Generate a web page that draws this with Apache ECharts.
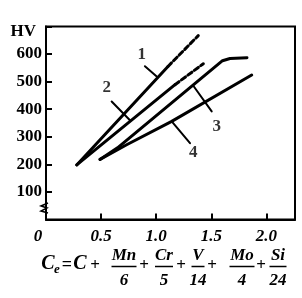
<!DOCTYPE html>
<html><head><meta charset="utf-8">
<script src="https://cdn.jsdelivr.net/npm/echarts@6/dist/echarts.min.js"></script>
<style>html,body{margin:0;padding:0;background:#fff}#c{width:302px;height:298px}</style>
</head><body><div id="c"></div>
<script>
// ---- data ----
const xTickLabels = ['0', '0.5', '1.0', '1.5', '2.0'];
const yTickLabels = ['100', '200', '300', '400', '500', '600'];
const curve1Solid = [[0.279, 198], [1.107, 555]];
const curve1Dash  = [[1.107, 555], [1.382, 667]];
const curve2Solid = [[0.279, 198], [1.171, 489]];
const curve2Dash  = [[1.171, 489], [1.428, 565]];
const curve3 = [[0.490, 218], [0.649, 260], [1.602, 576], [1.670, 584], [1.824, 587]];
const curve4 = [[0.490, 218], [0.732, 271], [1.141, 356], [1.867, 524]];
const curveNames = ['1', '2', '3', '4'];
const labelPoints = [[0.868, 598], [0.551, 478], [1.549, 337], [1.337, 241]];
const leader1 = [[0.898, 556], [1.005, 519]];
const leader2 = [[0.596, 428], [0.762, 360]];
const leader3 = [[1.337, 485], [1.504, 392]];
const leader4 = [[1.141, 356], [1.307, 277]];

const FONT = '"Liberation Serif", "DejaVu Serif", serif';
const chart = echarts.init(document.getElementById('c'), null, {renderer: 'canvas'});

function lineSeries(data, width, dash) {
  return {
    type: 'line', data: data, symbol: 'none', silent: true, animation: false,
    lineStyle: {color: '#000', width: width, type: dash || 'solid', cap: 'round'}
  };
}

// formula graphics
const g = [];
function txt(t, x, y, size, italic) {
  g.push({type: 'text', x: x, y: y, silent: true,
    style: {text: t, fill: '#000', align: 'center', verticalAlign: 'middle',
      font: (italic ? 'italic ' : '') + 'bold ' + size + 'px ' + FONT}});
}
function bar(x1, x2, y) {
  g.push({type: 'line', silent: true, shape: {x1: x1, y1: y, x2: x2, y2: y}, style: {stroke: '#000', lineWidth: 1.5}});
}
txt('C', 48, 264, 20, true);
txt('e', 57, 270, 13, true);
txt('=', 67, 265, 18, false);
txt('C', 80, 264, 20, true);
txt('+', 95, 266, 17, false);
const fracs = [['Mn', '6', 124, 25], ['Cr', '5', 164, 18], ['V', '14', 198, 13], ['Mo', '4', 242, 25], ['Si', '24', 278, 17]];
const plusX = [144, 181, 212, 261];
fracs.forEach(f => {
  txt(f[0], f[2], 256, 17, true);
  bar(f[2] - f[3] / 2, f[2] + f[3] / 2, 266.5);
  txt(f[1], f[2], 281, 17, true);
});
plusX.forEach(x => txt('+', x, 266, 17, false));
// axis break mark
g.push({type: 'polyline', silent: true, shape: {points: [[48, 203], [41, 206], [47, 208], [41, 211], [48, 213]]},
  style: {stroke: '#000', lineWidth: 1.5, fill: null}});

chart.setOption({
  animation: false,
  grid: {left: 46, right: 7, top: 26.5, bottom: 78.5, show: true, borderColor: '#000', borderWidth: 2, backgroundColor: 'transparent'},
  xAxis: {
    type: 'value', min: 0, max: 2.26, interval: 0.5,
    axisLine: {show: true, lineStyle: {color: '#000', width: 2}},
    axisTick: {show: true, inside: true, length: 6, lineStyle: {color: '#000', width: 2}},
    splitLine: {show: false},
    axisLabel: {
      margin: 9, color: '#000', fontFamily: FONT, fontWeight: 'bold', fontStyle: 'italic', fontSize: 17,
      formatter: v => {
        const i = Math.round(v / 0.5);
        if (Math.abs(v - i * 0.5) > 1e-6 || i >= xTickLabels.length) return '';
        return i === 0 ? '{z|' + xTickLabels[0] + '}' : xTickLabels[i];
      },
      rich: {z: {fontFamily: FONT, fontWeight: 'bold', fontStyle: 'italic', fontSize: 17, color: '#000', padding: [0, 16, 0, 0]}}
    }
  },
  yAxis: {
    type: 'value', min: 0, max: 700, interval: 100,
    name: 'HV', nameLocation: 'end', nameGap: -5,
    nameTextStyle: {color: '#000', fontFamily: FONT, fontWeight: 'bold', fontSize: 17, align: 'right', verticalAlign: 'middle', padding: [0, 10, 0, 0]},
    axisLine: {show: true, lineStyle: {color: '#000', width: 2}},
    axisTick: {show: true, inside: true, length: 6, lineStyle: {color: '#000', width: 2}},
    splitLine: {show: false},
    axisLabel: {
      margin: 4, color: '#000', fontFamily: FONT, fontWeight: 'bold', fontSize: 17,
      formatter: v => {
        const i = Math.round(v / 100) - 1;
        return (i >= 0 && i < yTickLabels.length) ? yTickLabels[i] : '';
      }
    }
  },
  series: [
    lineSeries(curve1Solid, 3), lineSeries(curve1Dash, 3, [5, 3]),
    lineSeries(curve2Solid, 3), lineSeries(curve2Dash, 3, [5, 3]),
    lineSeries(curve3, 3), lineSeries(curve4, 3),
    lineSeries(leader1, 2), lineSeries(leader2, 2), lineSeries(leader3, 2), lineSeries(leader4, 2),
    {
      type: 'scatter', symbolSize: 0, silent: true, animation: false,
      data: labelPoints.map((p, i) => ({value: p, name: curveNames[i]})),
      label: {show: true, position: 'inside', formatter: p => p.name, color: '#000',
        fontFamily: FONT, fontWeight: 'bold', fontSize: 17}
    }
  ],
  graphic: g
});
</script>
</body></html>
